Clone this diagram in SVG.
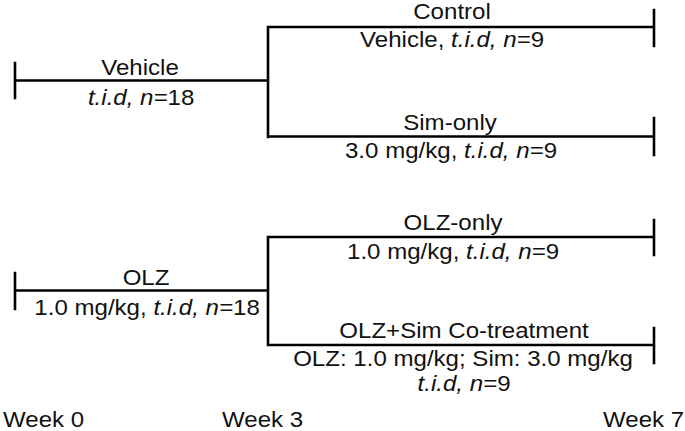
<svg xmlns="http://www.w3.org/2000/svg" width="685" height="431" viewBox="0 0 685 431">
<style>
.ln{stroke:#000;stroke-width:2.6;fill:none;stroke-linecap:square}
text{font-family:"Liberation Sans",Arial,sans-serif;font-size:21.5px;fill:#111}
.c{text-anchor:middle}
.i{font-style:italic}
</style>
<rect width="685" height="431" fill="#fff"/>
<g id="connectors">
<path class="ln" d="M15,63V98M15,80.5H268M268,27V137M268,27H654M654,10V46M268,136.5H654M654,118V155"/>
<path class="ln" d="M15,273V309M15,290.5H268M268,237V345M268,237H654M654,220V255M268,345H654M654,328V363"/>
</g>
<g transform="scale(1.12 1)">
<g id="vehicle"><text class="c" x="125" y="75">Vehicle</text><text class="c" x="126" y="105"><tspan class="i">t.i.d, n=</tspan>18</text></g>
<g id="control"><text class="c" x="403.6" y="19">Control</text><text class="c" x="403.6" y="47">Vehicle, <tspan class="i">t.i.d, n=</tspan>9</text></g>
<g id="simonly"><text class="c" x="401.8" y="130">Sim-only</text><text class="c" x="402.7" y="158">3.0 mg/kg, <tspan class="i">t.i.d, n=</tspan>9</text></g>
<g id="olz"><text class="c" x="130.4" y="285">OLZ</text><text class="c" x="131.3" y="315">1.0 mg/kg, <tspan class="i">t.i.d, n=</tspan>18</text></g>
<g id="olzonly"><text class="c" x="404.5" y="230">OLZ-only</text><text class="c" x="404.5" y="259">1.0 mg/kg, <tspan class="i">t.i.d, n=</tspan>9</text></g>
<g id="cotreat"><text class="c" x="414.3" y="338">OLZ+Sim Co-treatment</text><text class="c" x="413.4" y="366">OLZ: 1.0 mg/kg; Sim: 3.0 mg/kg</text><text class="c" x="414.3" y="391"><tspan class="i">t.i.d, n=</tspan>9</text></g>
<g id="weeks"><text x="2.7" y="427">Week 0</text><text x="198.2" y="427">Week 3</text><text x="538.4" y="427">Week 7</text></g>
</g>
</svg>
